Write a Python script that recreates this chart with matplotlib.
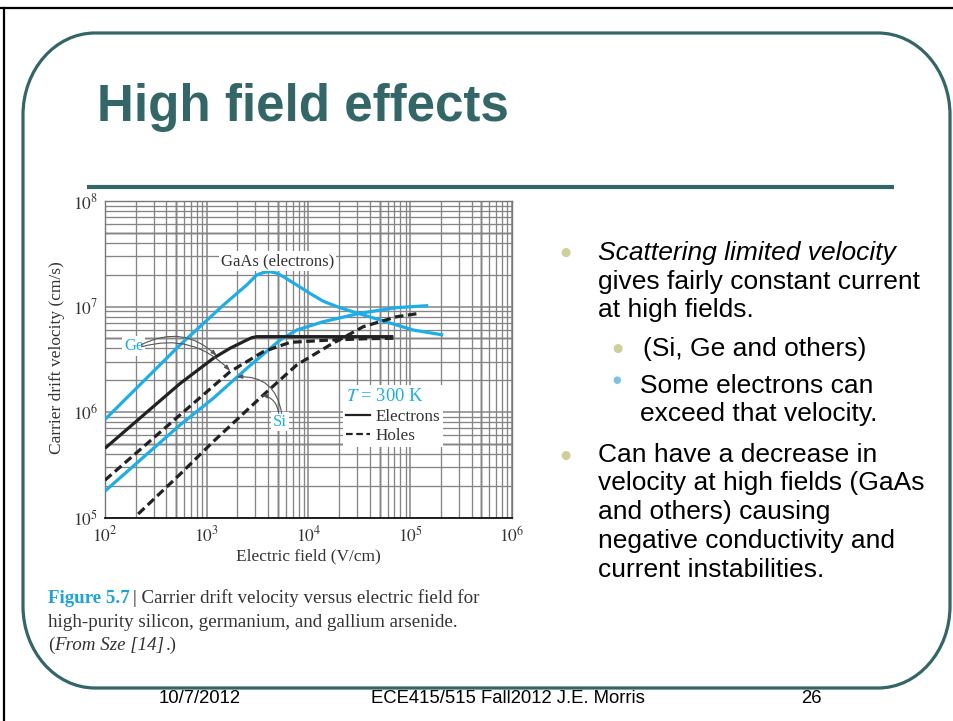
import matplotlib
matplotlib.use("Agg")
import matplotlib.pyplot as plt
from matplotlib.patches import PathPatch
from matplotlib.path import Path
from matplotlib.lines import Line2D
import numpy as np

plt.rcParams['mathtext.fontset'] = 'stix'

# ---------------- data ----------------
# Electric field (V/cm) and carrier drift velocity (cm/s)
gaas_e_field = [100, 546, 1456, 2472, 3100, 3600, 4170, 4800, 5650, 7660, 10350, 14000, 20000, 27500, 50500, 107000, 211000]
gaas_e_vel   = [8.5e5, 4.32e6, 1.03e7, 1.60e7, 1.99e7, 2.10e7, 2.14e7, 2.08e7, 1.92e7, 1.60e7, 1.33e7, 1.12e7, 9.8e6, 8.9e6, 7.45e6, 5.98e6, 5.37e6]

ge_e_field = [100, 546, 1161, 1694, 2472, 2750, 3100, 68200]
ge_e_vel   = [4.53e5, 1.86e6, 3.23e6, 4.02e6, 4.81e6, 5.05e6, 5.18e6, 5.18e6]

ge_h_field = [100, 546, 1694, 3597, 6577, 16255, 37330, 68200]
ge_h_vel   = [2.26e5, 9.38e5, 2.41e6, 3.73e6, 4.57e6, 4.81e6, 4.95e6, 5.0e6]

si_e_field = [100, 546, 1161, 2472, 5248, 7656, 14000, 32140, 73620, 150300]
si_e_vel   = [1.78e5, 7.53e5, 1.35e6, 2.59e6, 4.81e6, 5.98e6, 7.18e6, 8.63e6, 9.75e6, 1.02e7]

si_h_field = [212, 546, 1161, 3597, 7656, 16255, 34600, 73620, 124700]
si_h_vel   = [1.08e5, 2.57e5, 5.25e5, 1.45e6, 2.79e6, 4.32e6, 6.44e6, 8.0e6, 8.63e6]

x_ticks = [1e2, 1e3, 1e4, 1e5, 1e6]
x_tick_labels = [r'$10^{2}$', r'$10^{3}$', r'$10^{4}$', r'$10^{5}$', r'$10^{6}$']
y_ticks = [1e5, 1e6, 1e7, 1e8]
y_tick_labels = [r'$10^{5}$', r'$10^{6}$', r'$10^{7}$', r'$10^{8}$']

title = "High field effects"
bullet_lines = [
    "Scattering limited velocity", "gives fairly constant current", "at high fields.",
    "(Si, Ge and others)",
    "Some electrons can", "exceed that velocity.",
    "Can have a decrease in", "velocity at high fields (GaAs", "and others) causing",
    "negative conductivity and", "current instabilities.",
]
footer = ["10/7/2012", "ECE415/515 Fall2012 J.E. Morris", "26"]

# ---------------- style / layout ----------------
W, H = 954, 721
TEAL = '#336666'
BLUE = '#1CAEE8'
SANS = 'Liberation Sans'
SERIF = 'Liberation Serif'
TXT = '#333333'

fig = plt.figure(figsize=(W / 100, H / 100), dpi=100)
fig.patch.set_facecolor('white')

bg = fig.add_axes([0, 0, 1, 1], zorder=0)
bg.set_xlim(0, W)
bg.set_ylim(H, 0)
bg.axis('off')

# black frame (top and left)
bg.plot([0, W], [7.5, 7.5], color='black', lw=1.6)
bg.plot([4.5, 4.5], [7.5, H], color='black', lw=1.6)

# rounded teal rectangle with elliptical corners
x0, y0, x1, y1 = 23, 33, 950, 688
rx, ry = 72, 82
k = 0.5523
verts = [
    (x0 + rx, y0), (x1 - rx, y0),
    (x1 - rx + k * rx, y0), (x1, y0 + ry - k * ry), (x1, y0 + ry),
    (x1, y1 - ry),
    (x1, y1 - ry + k * ry), (x1 - rx + k * rx, y1), (x1 - rx, y1),
    (x0 + rx, y1),
    (x0 + rx - k * rx, y1), (x0, y1 - ry + k * ry), (x0, y1 - ry),
    (x0, y0 + ry),
    (x0, y0 + ry - k * ry), (x0 + rx - k * rx, y0), (x0 + rx, y0),
]
codes = [Path.MOVETO, Path.LINETO,
         Path.CURVE4, Path.CURVE4, Path.CURVE4,
         Path.LINETO,
         Path.CURVE4, Path.CURVE4, Path.CURVE4,
         Path.LINETO,
         Path.CURVE4, Path.CURVE4, Path.CURVE4,
         Path.LINETO,
         Path.CURVE4, Path.CURVE4, Path.CURVE4]
bg.add_patch(PathPatch(Path(verts, codes), fill=False, edgecolor=TEAL, lw=2.3))

# title
bg.text(97, 121, title, fontsize=36.8, fontweight='bold', color=TEAL,
        family=SANS, va='baseline', ha='left')
bg.plot([87, 894], [186.5, 186.5], color=TEAL, lw=3.0, solid_capstyle='butt')

# bullets on the right
fs_b = 19
baselines = [260, 289, 317, 356, 393, 421, 462, 490, 519, 548, 577]
text_x = [598, 598, 598, 643, 640, 640, 598, 598, 598, 598, 598]
for i, (ln, yb, tx) in enumerate(zip(bullet_lines, baselines, text_x)):
    bg.text(tx, yb, ln, fontsize=fs_b, family=SANS, style='italic' if i == 0 else 'normal',
            color='black', va='baseline', ha='left')
for (bx, by, bs, bc) in [(565, 252, 8.5, '#CFCF9B'), (565, 455, 8.5, '#CFCF9B'),
                         (617, 348, 8.5, '#CFCF9B'), (617, 380, 7, '#7CC3DF')]:
    bg.text(bx, by, u'\u25CF', fontsize=bs, color=bc, ha='center', va='center', family='DejaVu Sans')

# caption under the chart
cap_fs = 13.7
fig.canvas.draw()
renderer = fig.canvas.get_renderer()


def place(x, yb, s, **kw):
    t = bg.text(x, yb, s, fontsize=cap_fs, family=SERIF, va='baseline', ha='left', **kw)
    ext = t.get_window_extent(renderer=renderer)
    return x + ext.width


place(48, 603, "Figure 5.7", fontweight='bold', color='#1BA3E0')
place(133, 603, "| Carrier drift velocity versus electric field for", color=TXT)
place(48, 627, "high-purity silicon, germanium, and gallium arsenide.", color=TXT)
xx = place(48, 650, "(", color=TXT)
xx = place(xx, 650, "From Sze [14]", color=TXT, style='italic')
place(xx + 1, 650, ".)", color=TXT)

# footer
for fx, s in zip([200, 508, 811], footer):
    bg.text(fx, 703, s, fontsize=13.3, family=SANS, ha='center', va='baseline')

# chart axis labels
bg.text(308, 560, "Electric field (V/cm)", fontsize=12.5, family=SERIF, color=TXT, ha='center', va='baseline')
bg.text(57, 358, "Carrier drift velocity (cm/s)", fontsize=12.5, family=SERIF, color=TXT,
        ha='center', va='center', rotation=90)

# ---------------- chart ----------------
left, right, top, bottom = 105, 512, 201, 517.5
ax = fig.add_axes([left / W, 1 - bottom / H, (right - left) / W, (bottom - top) / H], zorder=2)
ax.set_xscale('log')
ax.set_yscale('log')
ax.set_xlim(1e2, 1e6)
ax.set_ylim(1e5, 1e8)
ax.set_facecolor('white')
ax.set_axisbelow(True)

ax.xaxis.set_minor_locator(matplotlib.ticker.LogLocator(base=10, subs=np.arange(2, 10)))
ax.yaxis.set_minor_locator(matplotlib.ticker.LogLocator(base=10, subs=np.arange(2, 10)))
ax.xaxis.set_minor_formatter(matplotlib.ticker.NullFormatter())
ax.yaxis.set_minor_formatter(matplotlib.ticker.NullFormatter())
ax.grid(which='major', color='#858585', lw=1.1)
ax.grid(which='minor', color='#858585', lw=0.95)
for d in [2, 3, 4, 5]:
    ax.axvline(5 * 10 ** d, color='#1e1e1e', lw=1.0, zorder=0.5)
for d in [5, 6, 7]:
    ax.axhline(5 * 10 ** d, color='#1e1e1e', lw=1.0, zorder=0.5)

ax.set_xticks(x_ticks, x_tick_labels)
ax.set_yticks(y_ticks, y_tick_labels)
ax.tick_params(which='both', length=0)
ax.tick_params(axis='x', pad=6, labelsize=12.5, labelcolor=TXT)
ax.tick_params(axis='y', pad=5, labelsize=12.5, labelcolor=TXT)
for s in ax.spines.values():
    s.set_color('#777777')
    s.set_linewidth(1.0)
ax.spines['bottom'].set_color('#111111')
ax.spines['bottom'].set_linewidth(1.3)

LW = 2.3
dash = (0, (2.7, 1.4))
ax.plot(gaas_e_field, gaas_e_vel, color=BLUE, lw=LW, solid_capstyle='butt', solid_joinstyle='round', zorder=3)
ax.plot(si_e_field, si_e_vel, color=BLUE, lw=LW, solid_capstyle='butt', solid_joinstyle='round', zorder=3)
ax.plot(ge_e_field, ge_e_vel, color='#222222', lw=LW, solid_capstyle='butt', solid_joinstyle='round', zorder=3)
ax.plot(ge_h_field, ge_h_vel, color='#222222', lw=LW, ls=dash, zorder=3)
ax.plot(si_h_field, si_h_vel, color='#222222', lw=LW, ls=dash, zorder=3)

white_box = dict(boxstyle='square,pad=0.1', facecolor='white', edgecolor='none')
ax.text(4950, 2.7e7, "GaAs (electrons)", fontsize=12, family=SERIF, color=TXT,
        ha='center', va='center', bbox=white_box, zorder=4)
ax.text(192, 4.23e6, "Ge", fontsize=12, family=SERIF, color=BLUE, ha='center', va='center',
        bbox=white_box, zorder=4)
ax.text(5250, 8.1e5, "Si", fontsize=12, family=SERIF, color=BLUE, ha='center', va='center',
        bbox=white_box, zorder=4)

arr = dict(arrowstyle='-|>,head_length=0.35,head_width=0.12', color='#555555', lw=0.8,
           shrinkA=0, shrinkB=0)
ax.annotate("", xy=(1260, 3.4e6), xytext=(228, 4.35e6),
            arrowprops=dict(arr, connectionstyle='arc3,rad=-0.35'), zorder=4)
ax.annotate("", xy=(1700, 2.45e6), xytext=(228, 4.15e6),
            arrowprops=dict(arr, connectionstyle='arc3,rad=-0.3'), zorder=4)
ax.annotate("", xy=(1950, 2.15e6), xytext=(5450, 9.7e5),
            arrowprops=dict(arr, connectionstyle='arc3,rad=0.45'), zorder=4)
ax.annotate("", xy=(3450, 1.45e6), xytext=(5100, 9.7e5),
            arrowprops=dict(arr, connectionstyle='arc3,rad=0.35'), zorder=4)

handles = [Line2D([], [], color='#222222', lw=1.6),
           Line2D([], [], color='#222222', lw=1.6, ls=(0, (3, 1.6)))]
leg = ax.legend(handles, ["Electrons", "Holes"], title=r"$T$ = 300 K", loc='upper left',
                bbox_to_anchor=(0.585, 0.418), frameon=True, facecolor='white', edgecolor='none',
                framealpha=1, fancybox=False, borderpad=0.15, labelspacing=0.22, handlelength=1.45,
                handletextpad=0.3, borderaxespad=0.0, prop={'family': SERIF, 'size': 12.3},
                alignment='left')
leg.get_title().set_color(BLUE)
leg.get_title().set_fontfamily(SERIF)
leg.get_title().set_fontsize(13.3)
leg.set_zorder(5)
for t in leg.get_texts():
    t.set_color(TXT)

fig.savefig("out.png", dpi=100, facecolor='white')
